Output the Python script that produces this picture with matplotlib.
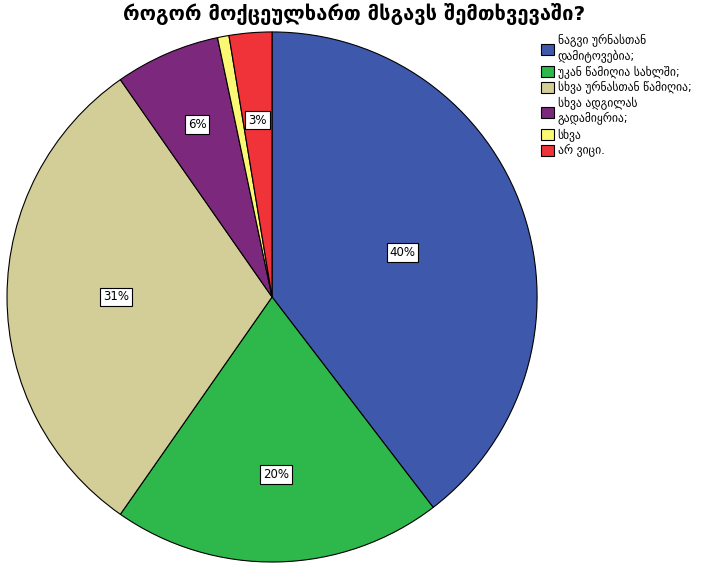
import matplotlib
matplotlib.use("Agg")
import matplotlib.pyplot as plt
import numpy as np

# answers and shares (percent)
answers = ["ნაგვი ურნასთან\nდამიტოვებია;",
           "უკან წამიღია სახლში;",
           "სხვა ურნასთან წამიღია;",
           "სხვა ადგილას\nგადამიყრია;",
           "სხვა",
           "არ ვიცი."]
shares = [39.6, 20.1, 30.6, 6.4, 0.7, 2.6]
colors = ["#3E58AC", "#2EB84B", "#D3CE97", "#7C287D", "#FBF873", "#EF3338"]
title = "როგორ მოქცეულხართ მსგავს შემთხვევაში?"

fig = plt.figure(figsize=(7.03, 5.63), dpi=100)
ax = fig.add_axes([0.010, 0.0015, 0.754, 0.942])

wedges, texts = ax.pie(shares, colors=colors, startangle=90, counterclock=False,
                       wedgeprops=dict(edgecolor="black", linewidth=0.8))
ax.set_xlim(-1, 1)
ax.set_ylim(-1, 1)
ax.set_aspect("equal")

# percent labels in white boxes, skip the tiny slice
label_r = [0.52, 0.67, 0.59, 0.71, None, 0.67]
for w, s, r in zip(wedges, shares, label_r):
    if r is None:
        continue
    mid = np.deg2rad((w.theta1 + w.theta2) / 2)
    ax.text(r * np.cos(mid), r * np.sin(mid), "%.0f%%" % s, ha="center", va="center",
            fontsize=8.5, bbox=dict(facecolor="white", edgecolor="black", linewidth=0.8, pad=2))

fig.text(0.503, 0.975, title, ha="center", va="center", fontsize=14.5, fontweight="bold")

leg = fig.legend(wedges, answers, loc="upper left", bbox_to_anchor=(0.763, 0.947),
                 frameon=False, fontsize=8.3, handlelength=1.15, handleheight=1.15,
                 handletextpad=0.3, labelspacing=0.25, borderaxespad=0)

fig.savefig("out.png", dpi=100)
